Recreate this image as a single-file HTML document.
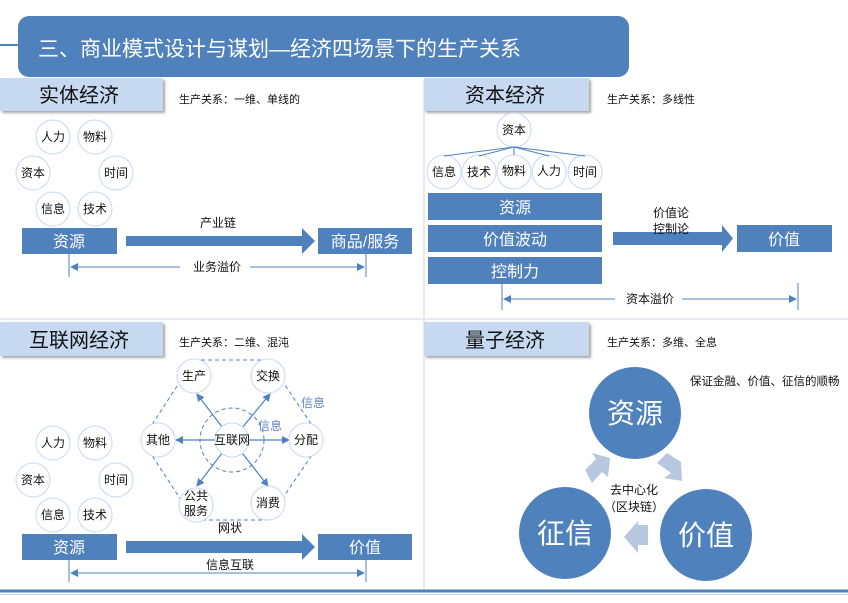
<!DOCTYPE html>
<html><head><meta charset="utf-8"><style>
body{margin:0;background:#fff;}
svg{display:block;font-family:"Liberation Sans","Noto Sans CJK SC",sans-serif;}
</style></head><body>
<svg width="848" height="603" viewBox="0 0 848 603" xmlns="http://www.w3.org/2000/svg">
<defs>
<marker id="ah" markerWidth="8" markerHeight="8" refX="7" refY="4" orient="auto" markerUnits="userSpaceOnUse"><path d="M0,0 L8,4 L0,8 z" fill="#4f81bd"/></marker>
<marker id="ahs" markerWidth="8" markerHeight="8" refX="1" refY="4" orient="auto" markerUnits="userSpaceOnUse"><path d="M8,0 L0,4 L8,8 z" fill="#4f81bd"/></marker>
<filter id="sh" x="-5%" y="-10%" width="115%" height="140%"><feDropShadow dx="2" dy="2" stdDeviation="1.2" flood-color="#000" flood-opacity="0.35"/></filter>
</defs>
<line x1="424" y1="80" x2="424" y2="590" stroke="#dde3ea" stroke-width="1.5"/>
<line x1="0" y1="319" x2="848" y2="319" stroke="#dde3ea" stroke-width="1.5"/>
<line x1="0" y1="591" x2="848" y2="591" stroke="#4f81bd" stroke-width="3"/>
<line x1="0" y1="594.5" x2="848" y2="594.5" stroke="#c6d9f1" stroke-width="1"/>
<line x1="0" y1="45" x2="20" y2="45" stroke="#4f81bd" stroke-width="2"/>
<rect x="18" y="16" width="611" height="61" rx="11" fill="#4f81bd"/>
<text x="38" y="56" font-size="21" fill="#fff">三、商业模式设计与谋划—经济四场景下的生产关系</text>
<g filter="url(#sh)">
<rect x="0" y="78" width="163" height="33" fill="#c6d9f1"/>
<rect x="424" y="78" width="165" height="33" fill="#c6d9f1"/>
<rect x="0" y="322" width="163" height="34" fill="#c6d9f1"/>
<rect x="424" y="322" width="165" height="34" fill="#c6d9f1"/>
</g>
<g font-size="20" fill="#111">
<text x="39" y="102">实体经济</text>
<text x="465" y="102">资本经济</text>
<text x="29" y="347">互联网经济</text>
<text x="465" y="347">量子经济</text>
</g>
<g font-size="11" fill="#111">
<text x="179" y="103">生产关系：一维、单线的</text>
<text x="607" y="103">生产关系：多线性</text>
<text x="179" y="346">生产关系：二维、混沌</text>
<text x="607" y="346">生产关系：多维、全息</text>
</g>
<g fill="#fff" stroke="#c6d9f1" stroke-width="1">
<circle cx="53" cy="137" r="17"/><circle cx="95" cy="137" r="17"/><circle cx="33" cy="173" r="17"/><circle cx="116" cy="173" r="17"/><circle cx="53" cy="209" r="17"/><circle cx="95" cy="209" r="17"/>
<circle cx="53" cy="443" r="17"/><circle cx="95" cy="443" r="17"/><circle cx="33" cy="480" r="17"/><circle cx="116" cy="480" r="17"/><circle cx="53" cy="515" r="17"/><circle cx="95" cy="515" r="17"/>
<circle cx="514" cy="130" r="17"/>
<circle cx="444" cy="172" r="17"/><circle cx="479" cy="172" r="17"/><circle cx="514" cy="172" r="17"/><circle cx="549" cy="172" r="17"/><circle cx="585" cy="172" r="17"/>
</g>
<g font-size="12" fill="#111" text-anchor="middle">
<text x="53" y="141">人力</text><text x="95" y="141">物料</text><text x="33" y="177">资本</text><text x="116" y="177">时间</text><text x="53" y="213">信息</text><text x="95" y="213">技术</text>
<text x="53" y="447">人力</text><text x="95" y="447">物料</text><text x="33" y="484">资本</text><text x="116" y="484">时间</text><text x="53" y="519">信息</text><text x="95" y="519">技术</text>
<text x="514" y="134">资本</text>
<text x="444" y="176">信息</text><text x="479" y="176">技术</text><text x="514" y="175">物料</text><text x="549" y="175">人力</text><text x="585" y="176">时间</text>
</g>
<g stroke="#4f81bd" stroke-width="1">
<line x1="514" y1="147" x2="444" y2="156"/><line x1="514" y1="147" x2="479" y2="156"/><line x1="514" y1="147" x2="514" y2="155"/><line x1="514" y1="147" x2="549" y2="156"/><line x1="514" y1="147" x2="585" y2="156"/>
</g>
<g fill="#4f81bd">
<rect x="22" y="228" width="95" height="26"/><rect x="318" y="228" width="94" height="26"/>
<path d="M126,236 H302 V228 L315,241 L302,254 V246 H126 Z"/>
<rect x="428" y="193" width="174" height="27"/><rect x="428" y="225" width="174" height="27"/><rect x="428" y="257" width="174" height="27"/>
<path d="M613,232 H722 V225 L733,238.5 L722,252 V245 H613 Z"/>
<rect x="737" y="225" width="95" height="27"/>
<rect x="22" y="534" width="95" height="26"/><rect x="318" y="534" width="94" height="26"/>
<path d="M126,541 H302 V534 L315,547 L302,560 V553 H126 Z"/>
</g>
<g font-size="16" fill="#fff" text-anchor="middle">
<text x="69" y="247">资源</text><text x="365" y="247">商品/服务</text>
<text x="515" y="213">资源</text><text x="515" y="245">价值波动</text><text x="515" y="277">控制力</text>
<text x="784" y="245">价值</text>
<text x="69" y="553">资源</text><text x="365" y="553">价值</text>
</g>
<g stroke="#4f81bd" stroke-width="1">
<line x1="69" y1="254" x2="69" y2="277"/><line x1="366" y1="254" x2="366" y2="277"/>
<line x1="71" y1="267" x2="180" y2="267" marker-start="url(#ahs)"/><line x1="250" y1="267" x2="364" y2="267" marker-end="url(#ah)"/>
<line x1="502" y1="283" x2="502" y2="310"/><line x1="798" y1="283" x2="798" y2="310"/>
<line x1="504" y1="299" x2="615" y2="299" marker-start="url(#ahs)"/><line x1="682" y1="299" x2="796" y2="299" marker-end="url(#ah)"/>
<line x1="69" y1="560" x2="69" y2="582"/><line x1="366" y1="560" x2="366" y2="582"/>
<line x1="71" y1="573" x2="364" y2="573" marker-start="url(#ahs)" marker-end="url(#ah)"/>
</g>
<g font-size="12" fill="#111" text-anchor="middle">
<text x="218" y="227">产业链</text><text x="217" y="271">业务溢价</text>
<text x="671" y="217">价值论</text><text x="671" y="233">控制论</text><text x="650" y="303">资本溢价</text>
<text x="230" y="532">网状</text><text x="230" y="569">信息互联</text>
</g>
<polygon points="194,360 268,360 322,440 268,520 194,520 142,440" fill="none" stroke="#4f81bd" stroke-width="1" stroke-dasharray="4,3"/>
<circle cx="232" cy="440" r="32" fill="none" stroke="#4f81bd" stroke-width="1" stroke-dasharray="4,3"/>
<g stroke="#4f81bd" stroke-width="1.2">
<line x1="232" y1="440" x2="197" y2="394" marker-end="url(#ah)"/>
<line x1="232" y1="440" x2="270" y2="394" marker-end="url(#ah)"/>
<line x1="232" y1="440" x2="289" y2="440" marker-end="url(#ah)"/>
<line x1="232" y1="440" x2="176" y2="440" marker-end="url(#ah)"/>
<line x1="232" y1="440" x2="197" y2="486" marker-end="url(#ah)"/>
<line x1="232" y1="440" x2="268" y2="486" marker-end="url(#ah)"/>
</g>
<g fill="#fff" stroke="#c6d9f1" stroke-width="1">
<circle cx="194" cy="376" r="17"/><circle cx="268" cy="376" r="17"/><circle cx="306" cy="440" r="17"/><circle cx="268" cy="503" r="17"/><circle cx="196" cy="505" r="17"/><circle cx="158" cy="440" r="17"/>
<circle cx="232" cy="440" r="17"/>
</g>
<g font-size="12" fill="#111" text-anchor="middle">
<text x="194" y="380">生产</text><text x="268" y="380">交换</text><text x="306" y="444">分配</text><text x="268" y="507">消费</text>
<text x="196" y="500">公共</text><text x="196" y="515">服务</text><text x="158" y="444">其他</text><text x="232" y="444">互联网</text>
</g>
<g font-size="12" fill="#5b84c0" text-anchor="middle">
<text x="313" y="407">信息</text><text x="270" y="430">信息</text>
</g>
<g fill="#b7c7df">
<path d="M585,470 L596,459 L592,453 L610,458 L608,477 L602,472 L592,483 Z"/>
<path d="M657,463 L667,453 L681,462 L682,481 L664,478 L671,473 Z"/>
<path d="M648,525 L648,545 L638,545 L638,553 L624,537 L638,521 L638,525 Z"/>
</g>
<g fill="#4f81bd">
<circle cx="635" cy="413" r="46"/><circle cx="565" cy="533" r="46"/><circle cx="706" cy="535" r="46"/>
</g>
<g font-size="28" fill="#fff" text-anchor="middle">
<text x="635" y="423">资源</text><text x="565" y="543">征信</text><text x="706" y="545">价值</text>
</g>
<g font-size="12" fill="#111" text-anchor="middle">
<text x="634" y="494">去中心化</text><text x="634" y="511">（区块链）</text>
</g>
<text x="690" y="385" font-size="11.5" fill="#111">保证金融、价值、征信的顺畅</text>
</svg>
</body></html>
